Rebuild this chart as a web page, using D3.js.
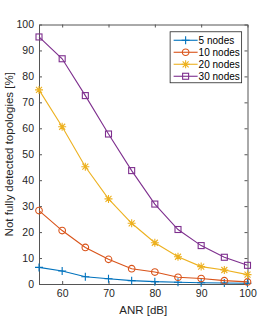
<!DOCTYPE html>
<html>
<head>
<meta charset="utf-8">
<script src="https://cdn.jsdelivr.net/npm/d3@7"></script>
<style>
  body { margin: 0; background: #fff; }
  svg { display: block; font-family: "Liberation Sans", Arial, sans-serif; }
  .axis text { font-size: 10.5px; fill: #262626; }
  .axis path, .axis line { stroke: #555; }
  .label { font-size: 11.5px; fill: #262626; }
  .legend text { font-size: 10px; fill: #000; }
</style>
</head>
<body>
<svg id="chart" width="274" height="319"></svg>
<script>
// data
const anr = [55, 60, 65, 70, 75, 80, 85, 90, 95, 100];
const nodes5 = [6.4, 5.0, 2.8, 2.0, 1.3, 0.9, 0.7, 0.5, 0.4, 0.3];
const nodes10 = [28.3, 20.6, 14.1, 9.5, 5.9, 4.6, 2.6, 2.1, 1.3, 0.8];
const nodes20 = [74.8, 60.6, 45.2, 32.8, 23.4, 15.9, 10.5, 6.7, 5.4, 3.6];
const nodes30 = [95.2, 86.8, 72.6, 57.8, 43.7, 30.8, 21.0, 14.8, 10.3, 7.2];
const xTicks = [60, 70, 80, 90, 100];
const yTicks = [0, 10, 20, 30, 40, 50, 60, 70, 80, 90, 100];

const series = [
  {name: '5 nodes', values: nodes5, color: '#0072BD', marker: 'plus'},
  {name: '10 nodes', values: nodes10, color: '#D95319', marker: 'circle'},
  {name: '20 nodes', values: nodes20, color: '#EDB120', marker: 'star'},
  {name: '30 nodes', values: nodes30, color: '#7E2F8E', marker: 'square'}
];

const margin = {top: 24.5, right: 26.5, bottom: 35, left: 39};
const width = 274 - margin.left - margin.right;
const height = 319 - margin.top - margin.bottom;

const svg = d3.select('#chart');
const g = svg.append('g').attr('transform', `translate(${margin.left},${margin.top})`);

const x = d3.scaleLinear().domain([55, 100]).range([0, width]);
const y = d3.scaleLinear().domain([0, 100]).range([height, 0]);

// axes (box on, ticks inside)
g.append('g')
  .attr('class', 'axis')
  .attr('transform', `translate(0,${height})`)
  .call(d3.axisBottom(x).tickValues(xTicks).tickSize(-3).tickPadding(6).tickSizeOuter(0));
g.append('g')
  .attr('class', 'axis')
  .call(d3.axisTop(x).tickValues(xTicks).tickSize(-3).tickFormat('').tickSizeOuter(0));
g.append('g')
  .attr('class', 'axis')
  .call(d3.axisLeft(y).tickValues(yTicks).tickSize(-3).tickPadding(5).tickSizeOuter(0));
g.append('g')
  .attr('class', 'axis')
  .attr('transform', `translate(${width},0)`)
  .call(d3.axisRight(y).tickValues(yTicks).tickSize(-3).tickFormat('').tickSizeOuter(0));

g.append('text')
  .attr('class', 'label')
  .attr('x', width / 2)
  .attr('y', height + 30)
  .attr('text-anchor', 'middle')
  .text('ANR [dB]');

g.append('text')
  .attr('class', 'label')
  .attr('transform', `translate(${-26},${height / 2}) rotate(-90)`)
  .attr('text-anchor', 'middle')
  .text('Not fully detected topologies [%]');

function drawMarker(sel, type, color) {
  if (type === 'plus') {
    sel.append('path').attr('d', 'M-4,0H4M0,-4V4');
  } else if (type === 'circle') {
    sel.append('circle').attr('r', 3.3).attr('fill', 'none');
  } else if (type === 'star') {
    sel.append('path').attr('d', 'M-4,0H4M0,-4V4M-3,-3L3,3M-3,3L3,-3');
  } else if (type === 'square') {
    sel.append('rect').attr('x', -3).attr('y', -3).attr('width', 6).attr('height', 6).attr('fill', 'none');
  }
  sel.attr('stroke', color).attr('stroke-width', 1.1).attr('fill', 'none');
}

const line = d3.line()
  .x((d, i) => x(anr[i]))
  .y(d => y(d));

series.forEach(s => {
  g.append('path')
    .attr('d', line(s.values))
    .attr('fill', 'none')
    .attr('stroke', s.color)
    .attr('stroke-width', 1.1);
  s.values.forEach((v, i) => {
    const m = g.append('g').attr('transform', `translate(${x(anr[i])},${y(v)})`);
    drawMarker(m, s.marker, s.color);
  });
});

// legend
const legend = g.append('g').attr('class', 'legend')
  .attr('transform', `translate(${x(83.3)},${y(97.2)})`);
legend.append('rect')
  .attr('width', 71.5).attr('height', 51)
  .attr('fill', '#fff').attr('stroke', '#262626').attr('stroke-width', 0.8);
series.forEach((s, i) => {
  const row = legend.append('g').attr('transform', `translate(0,${8.5 + i * 12})`);
  row.append('line').attr('x1', 3.5).attr('x2', 27.5)
    .attr('stroke', s.color).attr('stroke-width', 1.1);
  const m = row.append('g').attr('transform', 'translate(15.5,0)');
  drawMarker(m, s.marker, s.color);
  row.append('text').attr('x', 28.5).attr('dy', '0.35em').text(s.name);
});
</script>
</body>
</html>
